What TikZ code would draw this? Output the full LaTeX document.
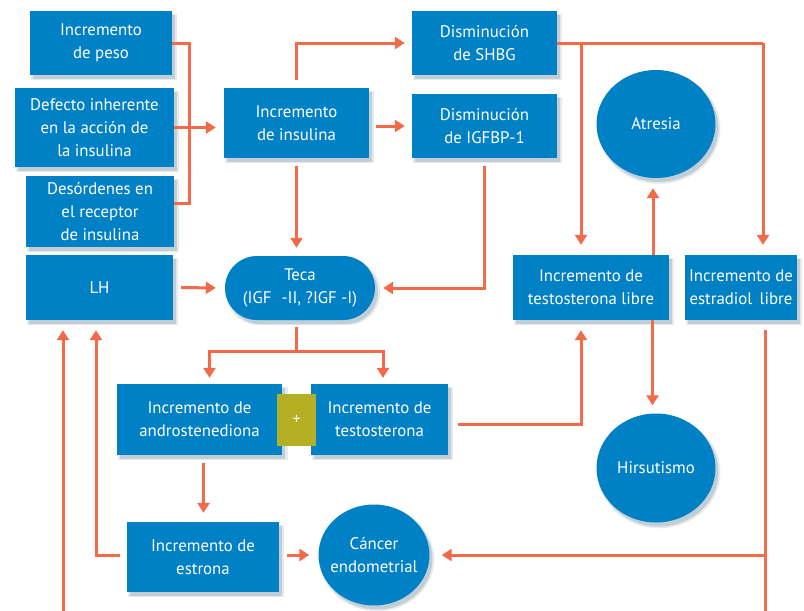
\documentclass[tikz,border=0pt]{standalone}
\usepackage{fontspec}
\setmainfont{PT Sans}
\usetikzlibrary{arrows.meta,shadows,shapes.geometric}
\definecolor{boxblue}{RGB}{0,128,197}
\definecolor{arrred}{RGB}{242,106,74}
\definecolor{plusolive}{RGB}{181,176,35}
\begin{document}
\begin{tikzpicture}[x=1pt,y=-1pt,
  font=\fontsize{16.8}{23}\selectfont,
  base/.style={fill=boxblue, text=white, align=center, inner sep=0pt,
    general shadow={fill=black!60!boxblue, opacity=0.10, shadow xshift=3pt, shadow yshift=-4pt, shadow scale=1.03},
    general shadow={fill=black!60!boxblue, opacity=0.15, shadow xshift=3pt, shadow yshift=-4pt}},
  bx/.style 2 args={base, rectangle, minimum width=#1, minimum height=#2},
  el/.style 2 args={base, ellipse, minimum width=#1, minimum height=#2},
  ln/.style={draw=arrred, line width=3pt},
  arr/.style={ln, -{Triangle[width=12pt,length=10pt]}},
]
\useasboundingbox[fill=white] (0,0) rectangle (804,611);

% nodes
\node[bx={142pt}{64pt}] (peso) at (101,43) {Incremento\\de peso};
\node[bx={159pt}{79pt}] (defecto) at (94.5,127.5) {Defecto inherente\\en la acción de\\la insulina};
\node[bx={148pt}{71pt}] (desord) at (100,211.5) {Desórdenes en\\el receptor\\de insulina};
\node[bx={147pt}{65pt}] (lh) at (99.5,287.5) {LH};
\node[bx={145pt}{70pt}] (insulina) at (296.5,123) {Incremento\\de insulina};
\node[bx={145pt}{64pt}] (shbg) at (484.5,43) {Disminución\\de SHBG};
\node[bx={145pt}{64pt}] (igfbp) at (484.5,126) {Disminución\\de IGFBP-1};
\node[bx={150pt}{64pt}, rounded corners=32pt] (teca) at (300,288) {Teca\\(IGF\,\, -II, ?IGF -I)};
\node[bx={165pt}{71pt}] (andro) at (199.5,419.5) {Incremento de\\androstenediona};
\node[bx={137pt}{71pt}] (testo) at (379.5,419.5) {Incremento de\\testosterona};
\node[rectangle, fill=plusolive, text=white!85!plusolive, minimum width=39pt, minimum height=52pt, inner sep=0pt] (plus) at (296.5,420) {+};
\node[bx={156pt}{65pt}] (tlibre) at (591,287.5) {Incremento de\\testosterona libre};
\node[bx={112pt}{65pt}] (estradiol) at (741,287.5) {Incremento de\\estradiol\, libre};
\node[el={119pt}{108pt}] (atresia) at (656,124) {Atresia};
\node[el={119pt}{109pt}] (hirsut) at (656,468) {Hirsutismo};
\node[el={111pt}{101pt}, label={[text=white, align=center, inner sep=0pt]center:Cáncer\\endometrial}] (cancer) at (374,555) {};
\node[bx={152pt}{70pt}] (estrona) at (203,557) {Incremento de\\estrona};

% coordinates
\coordinate (jl) at (189,127.5);
\coordinate (tsplit) at (296.5,351);
\coordinate (sr) at (763,43);
\coordinate (br) at (765,611);
\coordinate (bl) at (63,611);

% connectors
\draw[ln] (peso.east) -| (jl) |- ([yshift=8pt]desord.east);
\draw[arr, shorten >=8pt] (defecto.east) -- (defecto.east -| insulina.west);
\draw[arr, shorten <=8pt, shorten >=9pt] (lh.east) -- (teca.west);
\draw[arr, shorten <=8pt, shorten >=7pt] (insulina.north) |- (shbg.west);
\draw[arr, shorten <=7pt, shorten >=7pt] (insulina.east |- igfbp.west) -- (igfbp.west);
\draw[arr, shorten <=8pt, shorten >=8pt] (insulina.south) -- (insulina.south |- teca.north);
\draw[arr, shorten <=8pt, shorten >=8pt] (igfbp.south) |- (teca.east);
\draw[ln, shorten <=7pt] (teca.south -| tsplit) -- (tsplit);
\draw[arr, shorten >=6pt] (tsplit) -| ([xshift=10pt]andro.north);
\draw[arr, shorten >=6pt] (tsplit) -| ([xshift=3.5pt]testo.north);
\draw[arr, shorten <=10pt, shorten >=10pt] ([yshift=-4.5pt]testo.east) -| ([xshift=-10pt]tlibre.south);
\draw[ln] (shbg.east) -- (sr);
\draw[arr, shorten >=10pt] (sr) -- (sr |- estradiol.north);
\draw[arr, shorten >=10pt] ([xshift=-10pt]tlibre.north |- shbg.east) -- ([xshift=-10pt]tlibre.north);
\draw[arr, shorten >=10pt] ([xshift=-3pt]atresia.south |- tlibre.north) -- ([xshift=-3pt]atresia.south);
\draw[arr, shorten >=8pt] ([xshift=-3.5pt]hirsut.north |- tlibre.south) -- ([xshift=-3.5pt]hirsut.north);
\draw[ln, shorten <=10pt] (br |- estradiol.south) -- (br);
\draw[arr, shorten >=12pt] (br |- cancer.east) -- (cancer.east);
\draw[arr, shorten <=8pt, shorten >=9pt] ([xshift=4pt]andro.south) -- ([xshift=4pt]andro.south |- estrona.north);
\draw[arr, shorten <=8pt, shorten >=9pt] (estrona.east |- cancer.west) -- (cancer.west);
\draw[arr, shorten <=7pt, shorten >=10pt] (estrona.west |- cancer.west) -| ([xshift=-3.5pt]lh.south);
\draw[arr, shorten >=10pt] (bl) -- (bl |- lh.south);
\end{tikzpicture}
\end{document}
